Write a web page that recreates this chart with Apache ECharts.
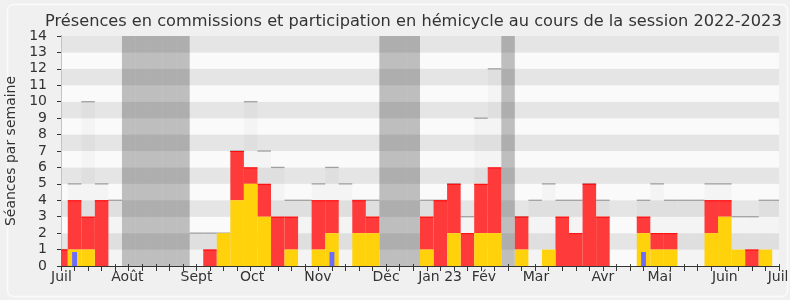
<!DOCTYPE html>
<html>
<head>
<meta charset="utf-8">
<script src="https://cdn.jsdelivr.net/npm/echarts@6/dist/echarts.min.js"></script>
<style>
html,body{margin:0;padding:0;background:#f0f0f0;}
#c{width:790px;height:300px;}
</style>
</head>
<body>
<div id="c"></div>
<script>
// Week index 0..53 (Monday-based weeks, session 2022-2023)
var weeks = [];
for (var w = 0; w <= 53; w++) weeks.push(w);

// Total séances in the week (grey outline)
var seances = [1,5,10,5,4,0,0,0,0,0, 2,2,2,7,10,7,6,4,4,5, 6,5,4,4,0,0,0,4,4,5, 3,9,12,0,3,4,5,4,4,5, 4,0,0,4,5,4,4,4,5,5, 3,3,4,4];
// Présences en commission (yellow)
var commission = [0,1,1,0,0,0,0,0,0,0, 0,0,2,4,5,3,0,1,0,1, 2,0,2,2,0,0,0,1,0,2, 0,2,2,0,1,0,1,0,0,0, 0,0,0,2,1,1,0,0,2,3, 1,0,1,0];
// Participation en hémicycle (red, stacked above yellow)
var hemicycle = [1,3,2,4,0,0,0,0,0,0, 0,1,0,3,1,2,3,2,0,3, 2,0,2,1,0,0,0,2,4,3, 2,3,4,0,2,0,0,3,2,5, 3,0,0,1,1,1,0,0,2,1, 0,1,0,0];
// Questions (thin blue)
var questions = [0,0.85,0,0,0,0,0,0,0,0, 0,0,0,0,0,0,0,0,0,0, 0.85,0,0,0,0,0,0,0,0,0, 0,0,0,0,0,0,0,0,0,0, 0,0,0,0.85,0,0,0,0,0,0, 0,0,0,0];
// Vacation weeks (dark grey columns)
var vacances = [5,6,7,8,9,24,25,26,33];

// Month tick labels
var monthLabels = ['Juil','Août','Sept','Oct','Nov','Déc','Jan 23','Fév','Mar','Avr','Mai','Juin','Juil'];
var monthPos = [0.03,4.9,10,14.1,18.97,24,27.98,31.22,35.06,40,44.2,49,52.93];

var yTicks = [0,1,2,3,4,5,6,7,8,9,10,11,12,13,14];

var FONT = 'DejaVu Sans';

function rectBetween(api, x0, x1, v0, v1) {
  var a = api.coord([x0, v1]);
  var b = api.coord([x1, v0]);
  return {x: a[0], y: a[1], width: b[0] - a[0], height: b[1] - a[1]};
}

var seanceData = weeks.map(function (w) { return [w, seances[w]]; });
var vacData = vacances.map(function (w) { return [w, yTicks[yTicks.length - 1]]; });
var comData = weeks.map(function (w) { return [w, commission[w]]; });
var hemData = weeks.map(function (w) { return [w, commission[w], hemicycle[w]]; });
var qData = weeks.map(function (w) { return [w, questions[w]]; });

var chart = echarts.init(document.getElementById('c'), null, {renderer: 'canvas'});
chart.setOption({
  backgroundColor: '#f0f0f0',
  animation: false,
  title: {
    text: 'Présences en commissions et participation en hémicycle au cours de la session 2022-2023',
    left: 40, top: 9,
    textStyle: {fontFamily: FONT, fontSize: 16.2, fontWeight: 'normal', color: '#333'}
  },
  graphic: [{
    type: 'rect', left: 5, top: 2, z: -1, silent: true,
    shape: {width: 780, height: 292, r: 6},
    style: {fill: 'none', stroke: '#fbfbfb', lineWidth: 1.5}
  }],
  grid: {left: 61, right: 11, top: 36, bottom: 34, containLabel: false, outerBoundsMode: 'none'},
  xAxis: [{
    type: 'value', min: 0, max: 53, interval: 1, position: 'bottom',
    axisLine: {show: true, onZero: false, lineStyle: {color: '#333', width: 1}},
    axisTick: {show: true, length: 5, lineStyle: {color: '#333'}},
    axisLabel: {
      customValues: monthPos, margin: 4, hideOverlap: false,
      fontFamily: FONT, fontSize: 14, color: '#333',
      formatter: function (v) {
        var best = 0, d = 1e9;
        for (var i = 0; i < monthPos.length; i++) { var dd = Math.abs(monthPos[i] - v); if (dd < d) { d = dd; best = i; } }
        return monthLabels[best];
      }
    },
    splitLine: {show: false}
  }, {
    type: 'value', min: 0, max: 53, interval: 1, position: 'top',
    axisLine: {show: false},
    axisTick: {show: true, length: 2, lineStyle: {color: '#444'}},
    axisLabel: {show: false},
    splitLine: {show: false}
  }],
  yAxis: [{
    type: 'value', min: 0, max: 14, interval: 1,
    name: 'Séances par semaine', nameLocation: 'middle', nameGap: 42,
    nameTextStyle: {fontFamily: FONT, fontSize: 14, color: '#333'},
    axisLine: {show: true, lineStyle: {color: '#333'}},
    axisTick: {show: true, length: 4, lineStyle: {color: '#333'}},
    axisLabel: {fontFamily: FONT, fontSize: 14, color: '#333', margin: 14},
    splitLine: {show: false},
    splitArea: {show: true, areaStyle: {color: ['#fafafa', '#e5e5e5']}}
  }, {
    type: 'value', min: 0, max: 14, interval: 1, position: 'right',
    axisLine: {show: true, lineStyle: {color: '#c4c4c4'}},
    axisTick: {show: false}, axisLabel: {show: false},
    splitLine: {show: false}, splitArea: {show: false}
  }],
  series: [{
    name: 'Séances', type: 'custom', clip: true, z: 1,
    data: seanceData,
    renderItem: function (params, api) {
      var x = api.value(0), v = api.value(1);
      if (!v) return null;
      var r = rectBetween(api, x - 0.5, x + 0.5, 0, v);
      return {type: 'group', children: [
        {type: 'rect', shape: r, style: {fill: 'rgba(0,0,0,0.025)'}},
        {type: 'line', shape: {x1: r.x, y1: r.y, x2: r.x + r.width, y2: r.y}, style: {stroke: '#a0a0a0', lineWidth: 1.3}}
      ]};
    }
  }, {
    name: 'Vacances', type: 'custom', clip: true, z: 2,
    data: vacData,
    renderItem: function (params, api) {
      var x = api.value(0), v = api.value(1);
      return {type: 'rect', shape: rectBetween(api, x - 0.5, x + 0.5, 0, v), style: {fill: 'rgba(0,0,0,0.24)'}};
    }
  }, {
    name: 'Hémicycle', type: 'custom', clip: true, z: 3,
    data: hemData,
    renderItem: function (params, api) {
      var x = api.value(0), base = api.value(1), v = api.value(2);
      if (!v) return null;
      var r = rectBetween(api, x - 0.5, x + 0.5, base, base + v);
      return {type: 'group', children: [
        {type: 'rect', shape: r, style: {fill: '#ff3a3a'}},
        {type: 'line', shape: {x1: r.x, y1: r.y + 0.5, x2: r.x + r.width, y2: r.y + 0.5}, style: {stroke: '#ff0a0a', lineWidth: 1}}
      ]};
    }
  }, {
    name: 'Commission', type: 'custom', clip: true, z: 4,
    data: comData,
    renderItem: function (params, api) {
      var x = api.value(0), v = api.value(1);
      if (!v) return null;
      return {type: 'rect', shape: rectBetween(api, x - 0.5, x + 0.5, 0, v), style: {fill: '#ffd20c'}};
    }
  }, {
    name: 'Questions', type: 'custom', clip: true, z: 5,
    data: qData,
    renderItem: function (params, api) {
      var x = api.value(0), v = api.value(1);
      if (!v) return null;
      return {type: 'rect', shape: rectBetween(api, x - 0.18, x + 0.18, 0, v), style: {fill: '#6b6bff'}};
    }
  }]
});
</script>
</body>
</html>
